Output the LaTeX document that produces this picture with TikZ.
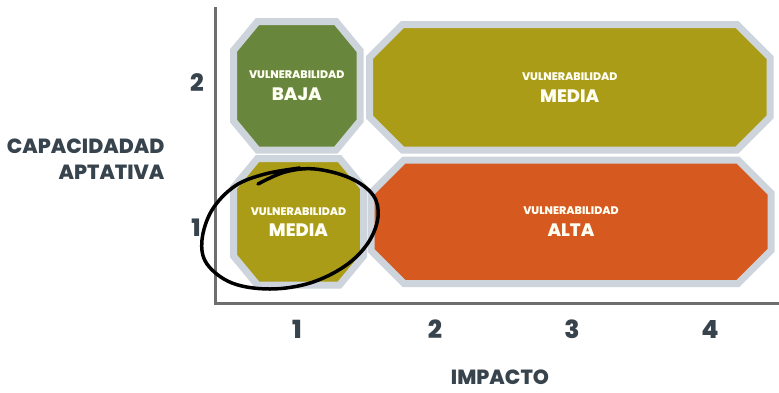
\documentclass[tikz,border=0pt]{standalone}
\usepackage{fontspec}
\setmainfont{Poppins}[BoldFont={Poppins ExtraBold}]
\usetikzlibrary{backgrounds}
\definecolor{verde}{HTML}{68873C}
\definecolor{oliva}{HTML}{AB9C17}
\definecolor{naranja}{HTML}{D65A20}
\definecolor{borde}{HTML}{CDD4DC}
\definecolor{tinta}{HTML}{37434D}
\definecolor{ejegris}{HTML}{6E6E6E}
% octagon round a node: node, x cut, y cut, colour
\newcommand{\octogono}[4]{%
  \filldraw[draw=borde, line width=7pt, fill=#4, line join=miter]
    ([xshift=#2]#1.north west) -- ([xshift=-#2]#1.north east)
    -- ([yshift=-#3]#1.north east) -- ([yshift=#3]#1.south east)
    -- ([xshift=-#2]#1.south east) -- ([xshift=#2]#1.south west)
    -- ([yshift=#3]#1.south west) -- ([yshift=-#3]#1.north west) -- cycle;}

\begin{document}
\begin{tikzpicture}[x=1pt, y=-1pt,
  every node/.style = {align=center, font=\bfseries},
  zona/.style = {inner sep=0pt, outer sep=0pt, text=white!95!yellow},
  eje/.style = {text=tinta, font=\bfseries\fontsize{24}{24}\selectfont},
  titulo/.style = {text=tinta, font=\bfseries\fontsize{20.5}{26}\selectfont}]
 \useasboundingbox (0,0) rectangle (779,392);
 % axes
 \coordinate (ytop) at (215,7);
 \coordinate (origen) at (215,303);
 \coordinate (xfin) at (779,303);
 \draw[ejegris, line width=3pt] (ytop) -- (origen) -- (xfin);
 % zones
 \node[zona, minimum width=126.5pt, minimum height=128.5pt] (baja) at (296.75,85.75)
   {\fontsize{11}{12}\selectfont VULNERABILIDAD\\[8pt] \fontsize{18}{18}\selectfont BAJA};
 \node[zona, minimum width=400.5pt, minimum height=125.5pt] (mediaA) at (569.75,87.25)
   {\fontsize{11}{12}\selectfont VULNERABILIDAD\\[8pt] \fontsize{18}{18}\selectfont MEDIA};
 \node[zona, minimum width=130pt, minimum height=126.5pt] (mediaB) at (298.5,221.75)
   {\fontsize{11}{12}\selectfont VULNERABILIDAD\\[7pt] \fontsize{18}{18}\selectfont MEDIA};
 \node[zona, minimum width=400pt, minimum height=123.5pt] (alta) at (571,221.75)
   {\fontsize{11}{12}\selectfont VULNERABILIDAD\\[8pt] \fontsize{18}{18}\selectfont ALTA};
 \begin{scope}[on background layer]
  \fill[white] (0,0) rectangle (779,392);
  \octogono{baja}{24pt}{29pt}{verde}
  \octogono{mediaA}{33pt}{33pt}{oliva}
  \octogono{mediaB}{24pt}{29pt}{oliva}
  \octogono{alta}{33pt}{33pt}{naranja}
 \end{scope}
 % labels
 \node[eje] (y2) at (197,83) {2};
 \node[eje] (y1) at (196,228) {1};
 \node[titulo, align=right, anchor=east] (capacidad) at (168,159) {CAPACIDADAD\\APTATIVA};
 \foreach \n/\x in {1/297, 2/435, 3/572, 4/710}
   \node[eje, font=\bfseries\fontsize{25}{25}\selectfont] (x\n) at (\x,329) {\n};
 \node[titulo] (impacto) at (500,377) {IMPACTO};
 % hand drawn mark
 \draw[line width=3.5pt, line cap=round] plot[smooth, tension=0.6] coordinates {
   (258,184) (285,172) (315,169) (350,178) (373,195) (378,217) (368,243)
   (345,266) (310,283) (270,289) (232,283) (207,264) (202,240) (212,210)
   (235,186) (265,174) (300,168)};
\end{tikzpicture}
\end{document}
